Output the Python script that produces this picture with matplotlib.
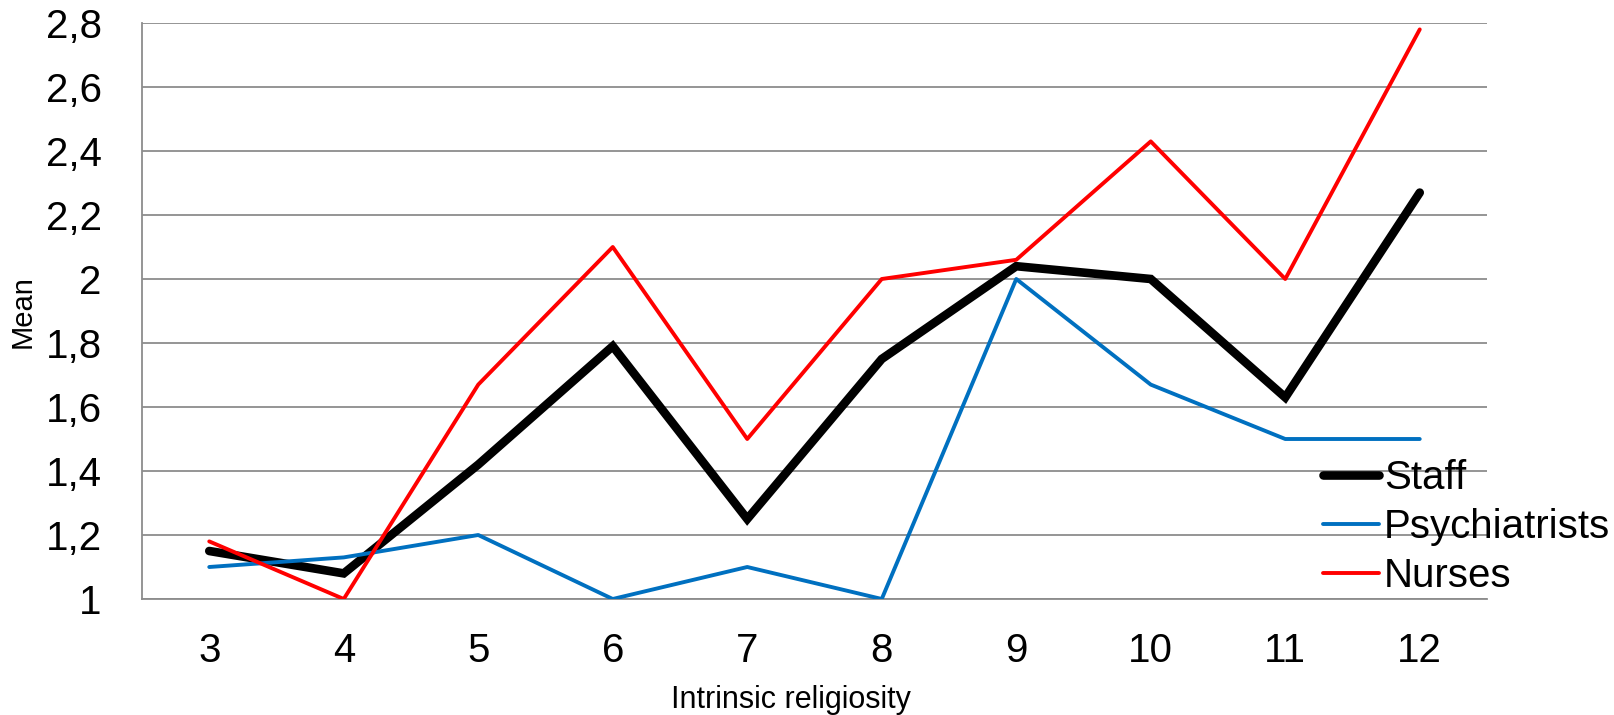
import matplotlib
matplotlib.use("Agg")
import matplotlib.pyplot as plt
from matplotlib.ticker import FuncFormatter, MultipleLocator

matplotlib.rcParams['font.family'] = ['Liberation Sans', 'DejaVu Sans']

religiosity = [3, 4, 5, 6, 7, 8, 9, 10, 11, 12]
staff = [1.15, 1.08, 1.42, 1.79, 1.25, 1.75, 2.04, 2.00, 1.63, 2.27]
psychiatrists = [1.10, 1.13, 1.20, 1.00, 1.10, 1.00, 2.00, 1.67, 1.50, 1.50]
nurses = [1.18, 1.00, 1.67, 2.10, 1.50, 2.00, 2.06, 2.43, 2.00, 2.78]

grid_col = '#8c8c8c'

fig = plt.figure(figsize=(16.14, 7.15), dpi=100)
ax = fig.add_axes([142/1614, 1 - 599/715, (1487 - 142)/1614, (599 - 23)/715])

xs = list(range(len(religiosity)))
ax.plot(xs, staff, color='black', lw=6.2, solid_capstyle='round', solid_joinstyle='miter', label='Staff', zorder=3)
ax.plot(xs, psychiatrists, color='#0070c0', lw=2.8, solid_capstyle='round', label='Psychiatrists', zorder=4)
ax.plot(xs, nurses, color='#ff0000', lw=2.8, solid_capstyle='round', label='Nurses', zorder=5)

ax.set_xlim(-0.5, len(religiosity) - 0.5)
ax.set_ylim(1, 2.8)
ax.set_xticks(xs)
ax.set_xticklabels([str(v) for v in religiosity])
ax.yaxis.set_major_locator(MultipleLocator(0.2))


def comma_fmt(v, pos):
    s = f"{v:.1f}"
    if s.endswith(".0"):
        s = s[:-2]
    return s.replace(".", ",")


ax.yaxis.set_major_formatter(FuncFormatter(comma_fmt))
ax.grid(axis='y', color=grid_col, lw=1.3)
ax.set_axisbelow(True)
for side in ['top', 'right']:
    ax.spines[side].set_visible(False)
for side in ['left', 'bottom']:
    ax.spines[side].set_color(grid_col)
    ax.spines[side].set_linewidth(1.3)
ax.tick_params(axis='both', length=0, labelsize=29)
ax.tick_params(axis='y', pad=29)
ax.tick_params(axis='x', pad=24)

# axis titles placed in figure coordinates
fig.text(23/1614, 1 - 312/715, 'Mean', rotation=90, fontsize=21, ha='center', va='center')
fig.text(791/1614, 1 - 708/715, 'Intrinsic religiosity', fontsize=22, ha='center', va='baseline')

fig.legend(loc='center left', bbox_to_anchor=(1323/1614, 1 - 527/715),
           frameon=False, fontsize=29, handlelength=1.4, handletextpad=0.12,
           borderpad=0, borderaxespad=0, labelspacing=0.27)

fig.savefig('out.png', dpi=100)
